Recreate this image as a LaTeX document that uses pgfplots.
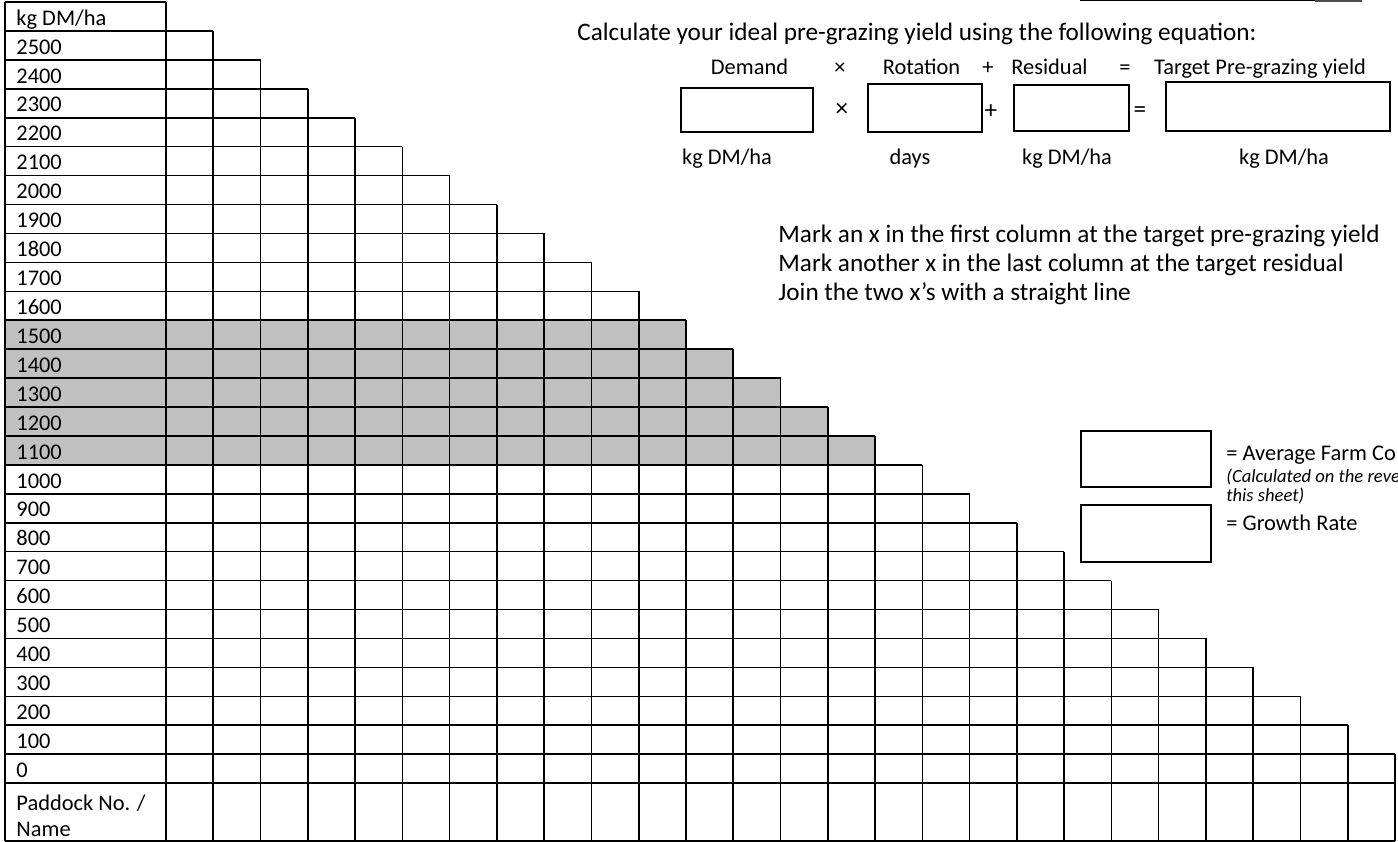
\documentclass[border=0pt]{standalone}
\usepackage{fontspec}
\setmainfont{Carlito}
\usepackage{pgfplots}
\pgfplotsset{compat=1.18}
\definecolor{shade}{HTML}{C0C0C0}

\newcommand\tl{\fontsize{11.2bp}{13bp}\selectfont}
\newcommand\tx{\fontsize{12.6bp}{15bp}\selectfont}

% corners of the wedge staircase: column edge, top of its first row
\pgfplotstableread{
x y
1 28
2 27
3 26
4 25
5 24
6 23
7 22
8 21
9 20
10 19
11 18
12 17
13 16
14 15
15 14
16 13
17 12
18 11
19 10
20 9
21 8
22 7
23 6
24 5
25 4
26 3
}\corners

\begin{document}
\begin{tikzpicture}[every node/.style={inner sep=0pt}]
\useasboundingbox (0,0) rectangle (699bp,421bp);

% the wedge table: x in paddock columns, y in rows counted from the bottom
\begin{axis}[at={(0,0)}, anchor=south west, width=699bp, height=421bp,
  scale only axis, hide axis, clip=false,
  xmin=-3.512, xmax=26.063, ymin=-0.035, ymax=29.07]

% shaded band 1100-1500
\addplot[fill=shade, draw=none] coordinates {
  (-3.406,13) (15,13) (15,14) (14,14) (14,15) (13,15) (13,16)
  (12,16) (12,17) (11,17) (11,18) (-3.406,18)};

% horizontal rules, label column part
\addplot[xcomb, line width=0.8bp] coordinates {
  (-3.406,0) (-3.406,2) (-3.406,3) (-3.406,4) (-3.406,5) (-3.406,6)
  (-3.406,7) (-3.406,8) (-3.406,9) (-3.406,10) (-3.406,11) (-3.406,12)
  (-3.406,13) (-3.406,14) (-3.406,15) (-3.406,16) (-3.406,17) (-3.406,18)
  (-3.406,19) (-3.406,20) (-3.406,21) (-3.406,22) (-3.406,23) (-3.406,24)
  (-3.406,25) (-3.406,26) (-3.406,27) (-3.406,28) (-3.406,29)};
% horizontal rules, paddock part
\addplot[xcomb, line width=0.8bp] table {\corners};
\addplot[xcomb, line width=0.8bp] coordinates {(26,0) (26,2)};
% vertical rules
\addplot[ycomb, line width=0.8bp] table {\corners};
\addplot[ycomb, line width=0.8bp] coordinates {(-3.406,29) (0,29)};

\node[anchor=base west, font=\tl] at (axis cs:-3.173,28.2) {kg DM/ha};
\node[anchor=base west, font=\tl] at (axis cs:-3.173,27.2) {2500};
\node[anchor=base west, font=\tl] at (axis cs:-3.173,26.2) {2400};
\node[anchor=base west, font=\tl] at (axis cs:-3.173,25.2) {2300};
\node[anchor=base west, font=\tl] at (axis cs:-3.173,24.2) {2200};
\node[anchor=base west, font=\tl] at (axis cs:-3.173,23.2) {2100};
\node[anchor=base west, font=\tl] at (axis cs:-3.173,22.2) {2000};
\node[anchor=base west, font=\tl] at (axis cs:-3.173,21.2) {1900};
\node[anchor=base west, font=\tl] at (axis cs:-3.173,20.2) {1800};
\node[anchor=base west, font=\tl] at (axis cs:-3.173,19.2) {1700};
\node[anchor=base west, font=\tl] at (axis cs:-3.173,18.2) {1600};
\node[anchor=base west, font=\tl] at (axis cs:-3.173,17.2) {1500};
\node[anchor=base west, font=\tl] at (axis cs:-3.173,16.2) {1400};
\node[anchor=base west, font=\tl] at (axis cs:-3.173,15.2) {1300};
\node[anchor=base west, font=\tl] at (axis cs:-3.173,14.2) {1200};
\node[anchor=base west, font=\tl] at (axis cs:-3.173,13.2) {1100};
\node[anchor=base west, font=\tl] at (axis cs:-3.173,12.2) {1000};
\node[anchor=base west, font=\tl] at (axis cs:-3.173,11.2) {900};
\node[anchor=base west, font=\tl] at (axis cs:-3.173,10.2) {800};
\node[anchor=base west, font=\tl] at (axis cs:-3.173,9.2) {700};
\node[anchor=base west, font=\tl] at (axis cs:-3.173,8.2) {600};
\node[anchor=base west, font=\tl] at (axis cs:-3.173,7.2) {500};
\node[anchor=base west, font=\tl] at (axis cs:-3.173,6.2) {400};
\node[anchor=base west, font=\tl] at (axis cs:-3.173,5.2) {300};
\node[anchor=base west, font=\tl] at (axis cs:-3.173,4.2) {200};
\node[anchor=base west, font=\tl] at (axis cs:-3.173,3.2) {100};
\node[anchor=base west, font=\tl] at (axis cs:-3.173,2.2) {0};
\node[anchor=base west, font=\tl] at (axis cs:-3.173,1.05) {Paddock No. /};
\node[anchor=base west, font=\tl] at (axis cs:-3.173,0.17) {Name};
\end{axis}

% notes and equation, in pixel units from the top left
\begin{axis}[at={(0,0)}, anchor=south west, width=699bp, height=421bp,
  scale only axis, hide axis, clip=false, y dir=reverse,
  xmin=0, xmax=1398, ymin=0, ymax=842]

\draw[line width=0.7bp] (axis cs:1080,0.7) -- (axis cs:1362,0.7);
\fill[black!70] (axis cs:1315,0) rectangle (axis cs:1362,2);

\node[anchor=base west, font=\tx] at (axis cs:577,41)
  {Calculate your ideal pre-grazing yield using the following equation:};

\node[anchor=base, font=\tl] at (axis cs:749.5,75) {Demand};
\node[anchor=base, font=\tl] at (axis cs:840,75) {×};
\node[anchor=base, font=\tl] at (axis cs:921.5,75) {Rotation};
\node[anchor=base, font=\tl] at (axis cs:988,75) {+};
\node[anchor=base, font=\tl] at (axis cs:1049.5,75) {Residual};
\node[anchor=base, font=\tl] at (axis cs:1125,75) {=};
\node[anchor=base, font=\tl] at (axis cs:1260,75) {Target Pre-grazing yield};

\draw[line width=0.7bp] (axis cs:681,88) rectangle (axis cs:813,132);
\draw[line width=0.7bp] (axis cs:868,84) rectangle (axis cs:982,132);
\draw[line width=0.7bp] (axis cs:1014,85) rectangle (axis cs:1129,131);
\draw[line width=0.7bp] (axis cs:1166,82) rectangle (axis cs:1390,131);
\node[font=\tx] at (axis cs:842,110) {×};
\node[font=\tx] at (axis cs:991,112) {+};
\node[font=\tx] at (axis cs:1140,112) {=};

\node[anchor=base, font=\tl] at (axis cs:727,165) {kg DM/ha};
\node[anchor=base, font=\tl] at (axis cs:910,165) {days};
\node[anchor=base, font=\tl] at (axis cs:1067,165) {kg DM/ha};
\node[anchor=base, font=\tl] at (axis cs:1284,165) {kg DM/ha};

\node[anchor=west, font=\tx] at (axis cs:778,236)
  {Mark an x in the first column at the target pre-grazing yield};
\node[anchor=west, font=\tx] at (axis cs:778,265)
  {Mark another x in the last column at the target residual};
\node[anchor=west, font=\tx] at (axis cs:778,294)
  {Join the two x’s with a straight line};

\draw[line width=0.7bp] (axis cs:1081,431) rectangle (axis cs:1211,487);
\draw[line width=0.7bp] (axis cs:1081,505) rectangle (axis cs:1211,562);
\node[anchor=west, font=\tl] at (axis cs:1226,455) {= Average Farm Co};
\node[anchor=west, font=\fontsize{9.3bp}{11bp}\selectfont\itshape]
  at (axis cs:1226,477) {(Calculated on the reve};
\node[anchor=west, font=\fontsize{9.3bp}{11bp}\selectfont\itshape]
  at (axis cs:1226,496) {this sheet)};
\node[anchor=west, font=\tl] at (axis cs:1226,523) {= Growth Rate};
\end{axis}
\end{tikzpicture}
\end{document}
